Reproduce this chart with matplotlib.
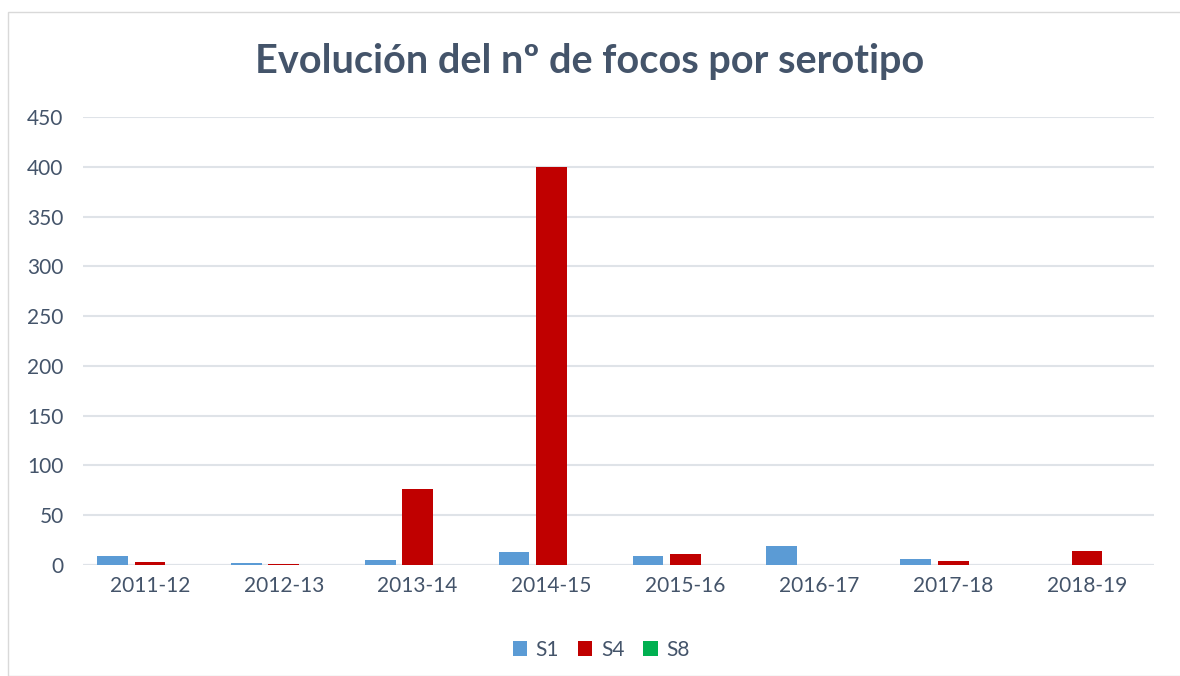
import numpy as np
import matplotlib.pyplot as plt
from matplotlib.patches import Rectangle

seasons = ['2011-12', '2012-13', '2013-14', '2014-15', '2015-16', '2016-17', '2017-18', '2018-19']
s1 = [9, 2, 5, 13, 9, 19, 6, 0]
s4 = [3, 1, 76, 400, 11, 0, 4, 14]
s8 = [0, 0, 0, 0, 0, 0, 0, 0]

plt.rcParams['font.family'] = ['Lato', 'DejaVu Sans']
txt = '#44546a'

fig = plt.figure(figsize=(11.8, 6.76), dpi=100)
ax = fig.add_axes([83/1180, 1 - 565/676, (1154-83)/1180, (565-117)/676])

x = np.arange(len(seasons))
w = 0.23
step = 0.28
ax.bar(x - step, s1, w, color='#5b9bd5', label='S1', zorder=3)
ax.bar(x, s4, w, color='#c00000', label='S4', zorder=3)
ax.bar(x + step, s8, w, color='#00b050', label='S8', zorder=3)

ax.set_xlim(-0.5, len(seasons) - 0.5)
ax.set_ylim(0, 450)
ax.set_yticks(range(0, 451, 50))
ax.set_xticks(x)
ax.set_xticklabels(seasons)
ax.grid(axis='y', color='#dfe3e8', linewidth=1.5, zorder=0)
for s in ax.spines.values():
    s.set_visible(False)
ax.axhline(0, color='#dfe3e8', linewidth=1.5, zorder=1)
ax.tick_params(length=0, labelsize=15, colors=txt, pad=8)
ax.tick_params(axis='y', pad=14)

fig.suptitle('Evolución del nº de focos por serotipo', x=0.5, y=1 - 62/676, va='center',
             fontsize=28.5, fontweight='bold', color=txt)

fig.legend(loc='center', bbox_to_anchor=(601/1180, 1 - 650/676), ncol=3, frameon=False,
           fontsize=15, labelcolor=txt, handlelength=0.7, handleheight=0.7,
           columnspacing=0.9, handletextpad=0.4)

fig.patches.append(Rectangle((8/1180, 0), 1, 1 - 12/676, transform=fig.transFigure,
                             fill=False, edgecolor='#d9d9d9', linewidth=1))

fig.savefig('out.png', dpi=100)
